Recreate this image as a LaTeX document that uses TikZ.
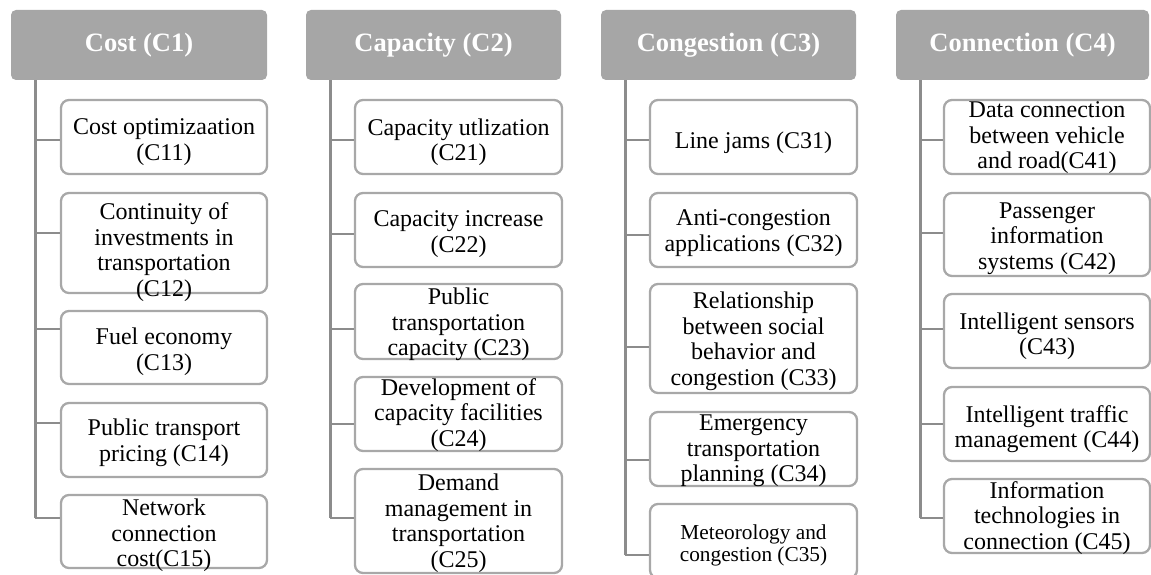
\documentclass[tikz,border=0pt]{standalone}
\usepackage{fontspec}
\setmainfont{Liberation Serif}
\definecolor{headgray}{HTML}{A6A6A6}
\definecolor{linegray}{HTML}{8C8C8C}
\definecolor{framegray}{HTML}{A8A8A8}
\begin{document}
\begin{tikzpicture}[x=1pt,y=-1pt,
  header/.style={fill=headgray, rounded corners=5pt, minimum width=255pt,
    minimum height=70pt, inner sep=0pt, text=white,
    font=\fontsize{26.5}{28}\selectfont\bfseries},
  item/.style={draw=framegray, line width=2.3pt, rounded corners=8pt,
    minimum width=206pt, inner sep=0pt},
  itemtext/.style={align=center, inner sep=0pt,
    font=\fontsize{24}{25.5}\selectfont},
  smalltext/.style={align=center, inner sep=0pt,
    font=\fontsize{21.3}{22}\selectfont},
  trunk/.style={draw=linegray, line width=3pt},
  branch/.style={draw=linegray, line width=2.5pt}]
\useasboundingbox (0,0) rectangle (1151,575);

% ---------- Cost (C1) ----------
\node[header, minimum width=256pt] (h1) at (139,45) {Cost (C1)};
\node[item, minimum height=74pt]  (c11) at (164,137)   {};
\node[item, minimum height=100pt] (c12) at (164,243)   {};
\node[item, minimum height=73pt]  (c13) at (164,347.5) {};
\node[item, minimum height=74pt]  (c14) at (164,440)   {};
\node[item, minimum height=73pt]  (c15) at (164,531.5) {};
\node[itemtext, yshift=-5pt] (t11) at (c11.center) {Cost optimizaation\\(C11)};
\node[itemtext, yshift=-9pt] (t12) at (c12.center) {Continuity of\\investments in\\transportation\\(C12)};
\node[itemtext, yshift=-4pt] (t13) at (c13.center) {Fuel economy\\(C13)};
\node[itemtext, yshift=-3pt] (t14) at (c14.center) {Public transport\\pricing (C14)};
\node[itemtext, yshift=-4pt] (t15) at (c15.center) {Network\\connection\\cost(C15)};
\coordinate (b11) at (35,140);
\coordinate (b12) at (35,233);
\coordinate (b13) at (35,329);
\coordinate (b14) at (35,423);
\coordinate (b15) at (35,518);
\draw[trunk] (h1.south -| b15) -- (b15);
\foreach \k in {11,12,13,14,15}
  \draw[branch] (b\k) -- (b\k -| c\k.west);

% ---------- Capacity (C2) ----------
\node[header] (h2) at (433.5,45) {Capacity (C2)};
\node[item, minimum width=207pt, minimum height=74pt]  (c21) at (458.5,137) {};
\node[item, minimum width=207pt, minimum height=74pt]  (c22) at (458.5,230) {};
\node[item, minimum width=207pt, minimum height=75pt]  (c23) at (458.5,321.5) {};
\node[item, minimum width=207pt, minimum height=74pt]  (c24) at (458.5,414) {};
\node[item, minimum width=207pt, minimum height=104pt] (c25) at (458.5,521) {};
\node[itemtext, yshift=-5pt] (t21) at (c21.center) {Capacity utlization\\(C21)};
\node[itemtext, yshift=-4pt] (t22) at (c22.center) {Capacity increase\\(C22)};
\node[itemtext, yshift=-3pt] (t23) at (c23.center) {Public\\transportation\\capacity (C23)};
\node[itemtext, yshift=-1pt] (t24) at (c24.center) {Development of\\capacity facilities\\(C24)};
\node[itemtext, yshift=-2pt] (t25) at (c25.center) {Demand\\management in\\transportation\\(C25)};
\coordinate (b21) at (330,140);
\coordinate (b22) at (330,234);
\coordinate (b23) at (330,329);
\coordinate (b24) at (330,424);
\coordinate (b25) at (330,518);
\draw[trunk] (h2.south -| b25) -- (b25);
\foreach \k in {21,22,23,24,25}
  \draw[branch] (b\k) -- (b\k -| c\k.west);

% ---------- Congestion (C3) ----------
\node[header] (h3) at (728.5,45) {Congestion (C3)};
\node[item, minimum width=207pt, minimum height=74pt]  (c31) at (753.5,137) {};
\node[item, minimum width=207pt, minimum height=74pt]  (c32) at (753.5,230) {};
\node[item, minimum width=207pt, minimum height=109pt] (c33) at (753.5,338.5) {};
\node[item, minimum width=207pt, minimum height=74pt]  (c34) at (753.5,449) {};
\node[item, minimum width=207pt, minimum height=74pt]  (c35) at (753.5,541) {};
\node[itemtext, yshift=-6pt] (t31) at (c31.center) {Line jams (C31)};
\node[itemtext, yshift=-3pt] (t32) at (c32.center) {Anti-congestion\\applications (C32)};
\node[itemtext, yshift=-3pt] (t33) at (c33.center) {Relationship\\between social\\behavior and\\congestion (C33)};
\node[itemtext, yshift=-2pt] (t34) at (c34.center) {Emergency\\transportation\\planning (C34)};
\node[smalltext, yshift=-4pt] (t35) at (c35.center) {Meteorology and\\congestion (C35)};
\coordinate (b31) at (625,140);
\coordinate (b32) at (625,235);
\coordinate (b33) at (625,347);
\coordinate (b34) at (625,460);
\coordinate (b35) at (625,555);
\draw[trunk] (h3.south -| b35) -- (b35);
\foreach \k in {31,32,33,34,35}
  \draw[branch] (b\k) -- (b\k -| c\k.west);

% ---------- Connection (C4) ----------
\node[header, minimum width=253pt] (h4) at (1022.5,45) {Connection (C4)};
\node[item, minimum height=74pt] (c41) at (1047,137)   {};
\node[item, minimum height=83pt] (c42) at (1047,234.5) {};
\node[item, minimum height=74pt] (c43) at (1047,331)   {};
\node[item, minimum height=74pt] (c44) at (1047,424)   {};
\node[item, minimum height=74pt] (c45) at (1047,516)   {};
\node[itemtext, yshift=-1pt] (t41) at (c41.center) {Data connection\\between vehicle\\and road(C41)};
\node[itemtext, yshift=-4pt] (t42) at (c42.center) {Passenger\\information\\systems (C42)};
\node[itemtext, yshift=-5pt] (t43) at (c43.center) {Intelligent sensors\\(C43)};
\node[itemtext, yshift=-5pt] (t44) at (c44.center) {Intelligent traffic\\management (C44)};
\node[itemtext, yshift=-2pt] (t45) at (c45.center) {Information\\technologies in\\connection (C45)};
\coordinate (b41) at (920,140);
\coordinate (b42) at (920,233);
\coordinate (b43) at (920,329);
\coordinate (b44) at (920,424);
\coordinate (b45) at (920,518);
\draw[trunk] (h4.south -| b45) -- (b45);
\foreach \k in {41,42,43,44,45}
  \draw[branch] (b\k) -- (b\k -| c\k.west);
\end{tikzpicture}
\end{document}
